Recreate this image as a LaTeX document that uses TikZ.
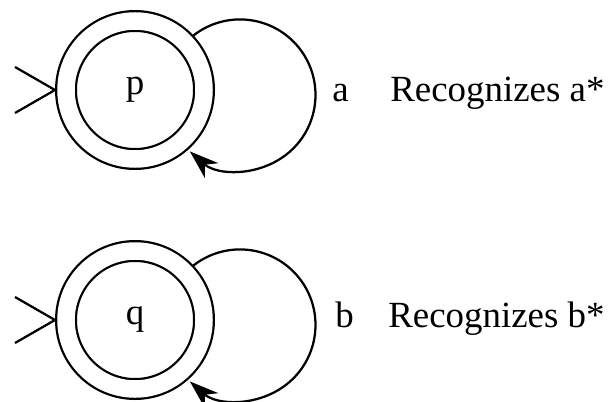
\documentclass[tikz,border=0pt]{standalone}
\usepackage{fontspec}
\setmainfont{Liberation Serif}
\usepackage{tikz}
\usetikzlibrary{arrows.meta, positioning}
\tikzset{
  stateNode/.style={circle,draw,double,double distance=0.35cm,line width=0.045cm,
                    minimum size=2.76cm,inner sep=0pt,outer sep=0.22cm,
                    font=\fontsize{21}{25}\selectfont},
  loopArrow/.style={-{Stealth[length=0.58cm,width=0.4cm,inset=0.18cm]},line width=0.045cm},
  startMark/.style={line width=0.045cm},
  lblText/.style={inner sep=0pt,anchor=base west,font=\fontsize{21}{25}\selectfont},
}
\begin{document}
\begin{tikzpicture}
  \useasboundingbox (0,0) rectangle (12.22,8.02);
  \node[stateNode](p) at (2.70,6.22) {p};
  \node[stateNode,below=4.6cm of p.center,anchor=center](q) {q};
  % start markers and self loops
  \foreach \s in {p,q}{
    \draw[startMark]([shift={(-0.8,0.46)}]\s.west)--(\s.west)--([shift={(-0.8,-0.46)}]\s.west);
    \draw[loopArrow](\s.43.5) arc[start angle=128,end angle=-131.6,radius=1.51cm];
  }
  \node[lblText](la) at (6.64,5.98) {a};
  \node[lblText](ra) at (7.80,5.98) {Recognizes a*};
  \node[lblText](lb) at (6.70,1.48) {b};
  \node[lblText](rb) at (7.76,1.48) {Recognizes b*};
\end{tikzpicture}
\end{document}
